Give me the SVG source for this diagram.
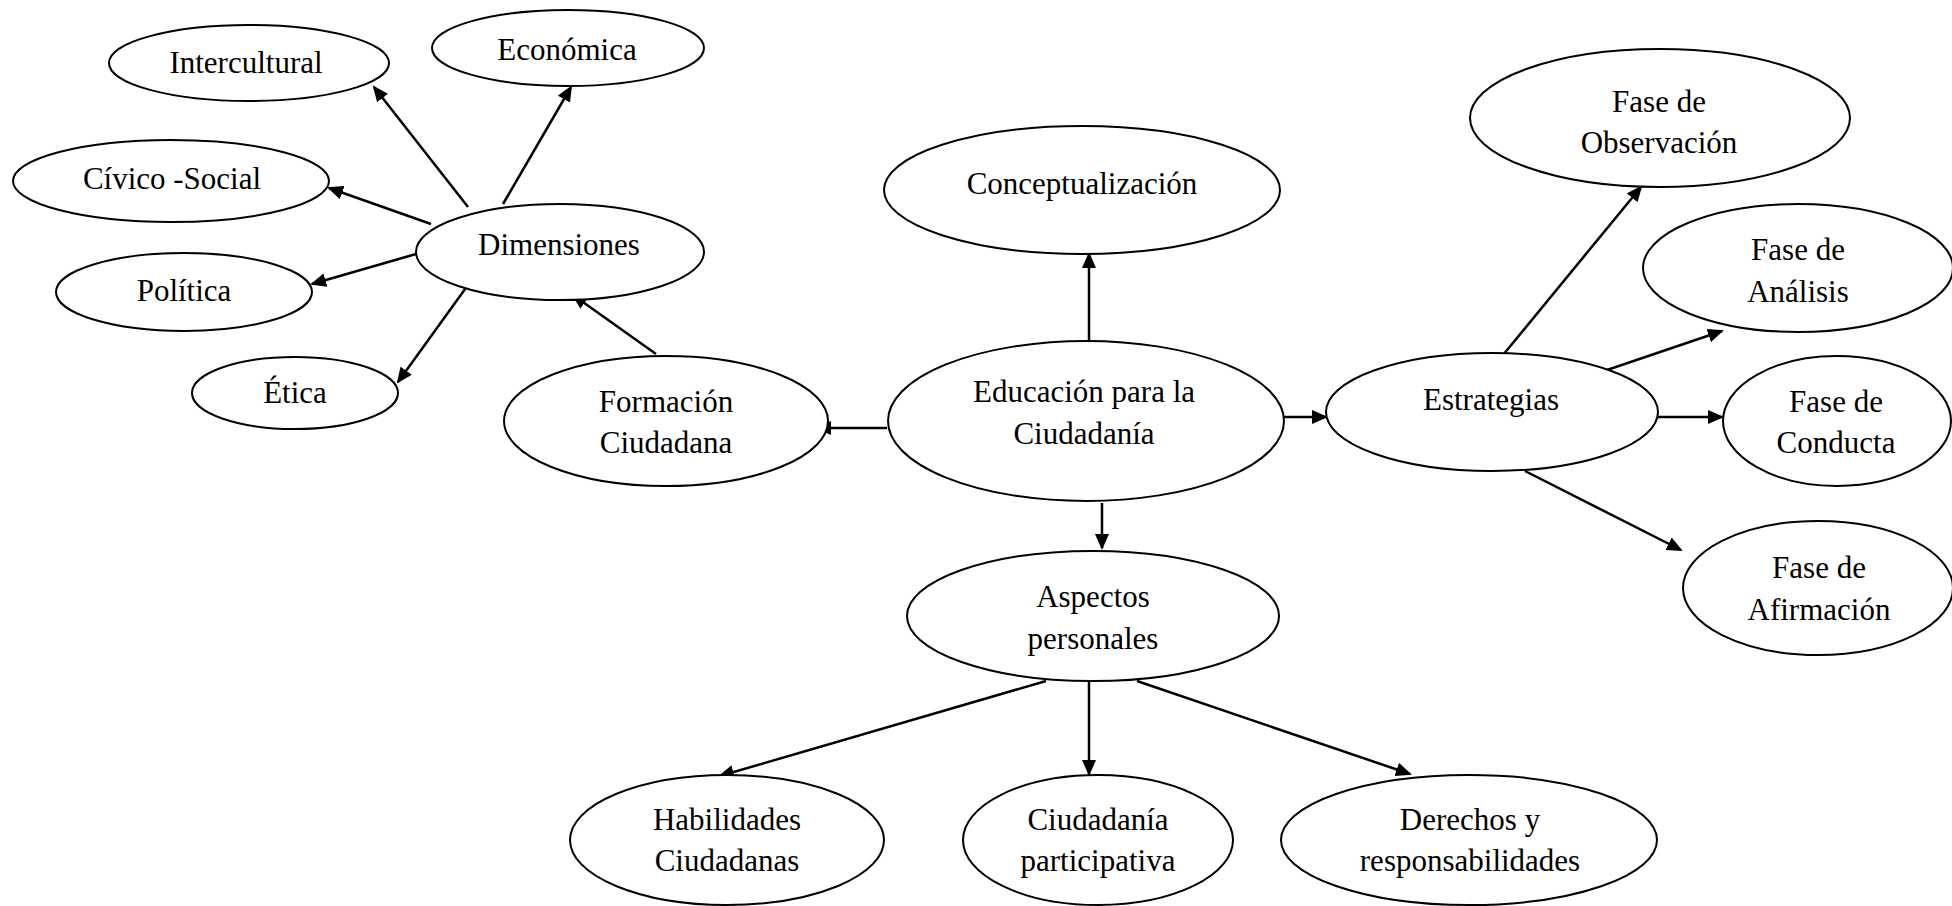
<svg xmlns="http://www.w3.org/2000/svg" width="1952" height="906" viewBox="0 0 1952 906">
<style>
.n ellipse{fill:#fff;stroke:#000;stroke-width:2}
.n text{font-family:"Liberation Serif","Times New Roman",serif;font-size:31px;fill:#000;text-anchor:middle}
.c line{stroke:#000;stroke-width:2.5;marker-end:url(#ah)}
</style>
<defs>
<marker id="ah" markerUnits="userSpaceOnUse" markerWidth="16" markerHeight="14" viewBox="0 0 16 14" refX="14" refY="7" orient="auto">
<path d="M0,0 L16,7 L0,14 z" fill="#000"/>
</marker>
</defs>
<rect width="1952" height="906" fill="#fff"/>
<g id="connectors" class="c">
<line x1="468" y1="207" x2="374" y2="87"/>
<line x1="503" y1="204" x2="571" y2="87"/>
<line x1="431" y1="224" x2="329" y2="188"/>
<line x1="416" y1="254" x2="312" y2="284"/>
<line x1="468" y1="285" x2="398" y2="382"/>
<line x1="656" y1="354" x2="573" y2="295"/>
<line x1="887" y1="428" x2="817" y2="428"/>
<line x1="1089" y1="341" x2="1089" y2="254"/>
<line x1="1283" y1="417" x2="1326" y2="417"/>
<line x1="1102" y1="503" x2="1102" y2="548"/>
<line x1="1503" y1="355" x2="1641" y2="187"/>
<line x1="1607" y1="370" x2="1722" y2="331"/>
<line x1="1658" y1="417" x2="1722" y2="417"/>
<line x1="1525" y1="471" x2="1681" y2="550"/>
<line x1="1046" y1="681" x2="720" y2="776"/>
<line x1="1089" y1="681" x2="1089" y2="774"/>
<line x1="1137" y1="681" x2="1410" y2="774"/>
</g>
<g id="intercultural" class="n"><ellipse cx="249" cy="63" rx="140" ry="38"/><text x="246" y="73">Intercultural</text></g>
<g id="economica" class="n"><ellipse cx="568" cy="48" rx="136" ry="38"/><text x="567" y="60">Económica</text></g>
<g id="civico" class="n"><ellipse cx="171" cy="181" rx="158" ry="41"/><text x="172" y="189">Cívico -Social</text></g>
<g id="dimensiones" class="n"><ellipse cx="560" cy="252" rx="144" ry="48"/><text x="559" y="255">Dimensiones</text></g>
<g id="politica" class="n"><ellipse cx="184" cy="292" rx="128" ry="39"/><text x="184" y="301">Política</text></g>
<g id="etica" class="n"><ellipse cx="295" cy="393" rx="103" ry="36"/><text x="295" y="403">Ética</text></g>
<g id="formacion" class="n"><ellipse cx="666" cy="421" rx="162" ry="65"/><text x="666" y="412">Formación</text><text x="666" y="453">Ciudadana</text></g>
<g id="conceptualizacion" class="n"><ellipse cx="1082" cy="190" rx="198" ry="64"/><text x="1082" y="194">Conceptualización</text></g>
<g id="educacion" class="n"><ellipse cx="1086" cy="421" rx="198" ry="80"/><text x="1084" y="402">Educación para la</text><text x="1084" y="444">Ciudadanía</text></g>
<g id="estrategias" class="n"><ellipse cx="1492" cy="412" rx="166" ry="59"/><text x="1491" y="410">Estrategias</text></g>
<g id="observacion" class="n"><ellipse cx="1660" cy="118" rx="190" ry="69"/><text x="1659" y="112">Fase de</text><text x="1659" y="153">Observación</text></g>
<g id="analisis" class="n"><ellipse cx="1798" cy="268" rx="155" ry="64"/><text x="1798" y="260">Fase de</text><text x="1798" y="302">Análisis</text></g>
<g id="conducta" class="n"><ellipse cx="1837" cy="421" rx="114" ry="65"/><text x="1836" y="412">Fase de</text><text x="1836" y="453">Conducta</text></g>
<g id="afirmacion" class="n"><ellipse cx="1818" cy="588" rx="135" ry="67"/><text x="1819" y="578">Fase de</text><text x="1819" y="620">Afirmación</text></g>
<g id="aspectos" class="n"><ellipse cx="1093" cy="616" rx="186" ry="65"/><text x="1093" y="607">Aspectos</text><text x="1093" y="649">personales</text></g>
<g id="habilidades" class="n"><ellipse cx="727" cy="840" rx="157" ry="65"/><text x="727" y="830">Habilidades</text><text x="727" y="871">Ciudadanas</text></g>
<g id="participativa" class="n"><ellipse cx="1098" cy="840" rx="135" ry="65"/><text x="1098" y="830">Ciudadanía</text><text x="1098" y="871">participativa</text></g>
<g id="derechos" class="n"><ellipse cx="1469" cy="840" rx="188" ry="65"/><text x="1470" y="830">Derechos y</text><text x="1470" y="871">responsabilidades</text></g>
</svg>
